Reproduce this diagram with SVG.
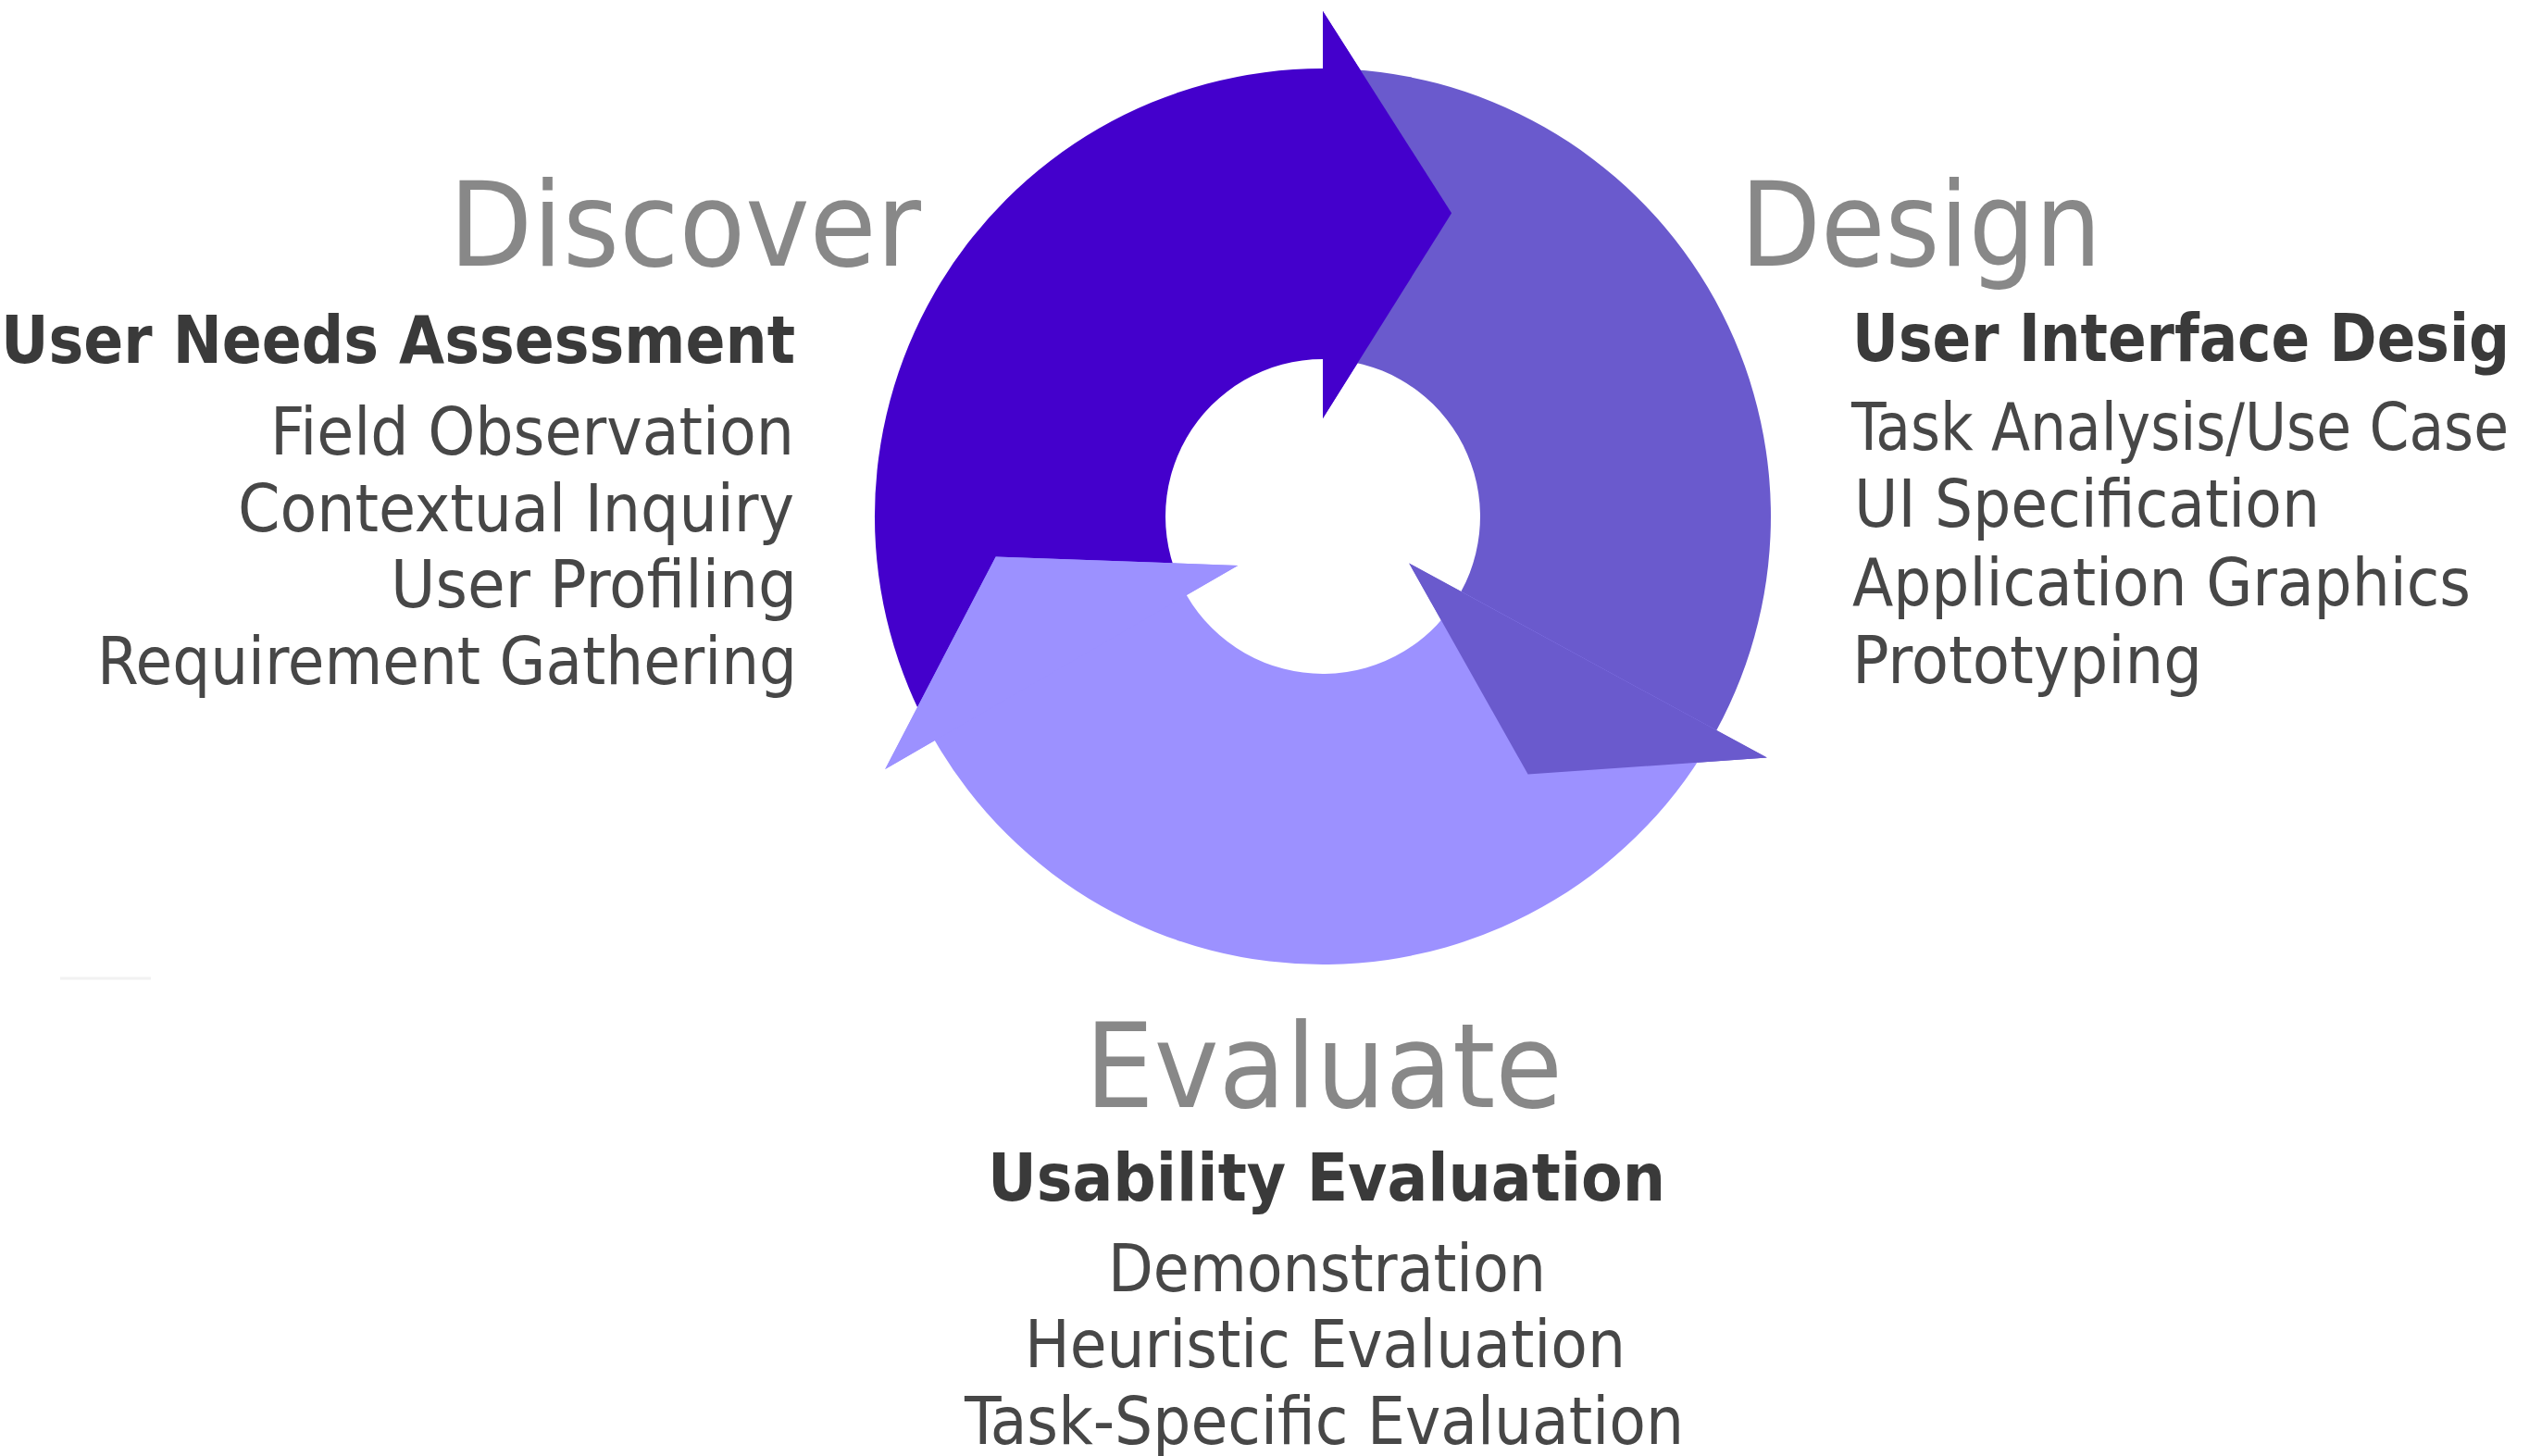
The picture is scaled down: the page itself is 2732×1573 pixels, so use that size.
<svg xmlns="http://www.w3.org/2000/svg" width="2732" height="1573" viewBox="0 0 2732 1573">
  <style>
    text { font-family: "DejaVu Sans Condensed", "DejaVu Sans", sans-serif; font-stretch: condensed; }
    .head { font-size: 127px; fill: #888888; }
    .sub { font-size: 72px; font-weight: bold; fill: #3a3a3a; }
    .item { font-size: 71px; fill: #474747; }
    .dark { fill: #4400CC; }
    .mid { fill: #6A5ACD; }
    .light { fill: #9C91FF; }
  </style>
  <rect x="0" y="0" width="2732" height="1573" fill="#ffffff"/>

  <g id="connectors">
    <path class="dark" d="M 1009.8,800 A 484 484 0 0 1 1429,74 L 1429,12 L 1568.1,230.3 L 1429,452 L 1429,388 A 170 170 0 0 0 1281.8,643 Z"/>
    <path class="mid" d="M 1429,74 A 484 484 0 0 1 1854.3,789 L 1908.8,818.6 L 1650.6,836.6 L 1522.2,608.6 L 1578.4,639.1 A 170 170 0 0 0 1429,388 Z"/>
    <path class="light" d="M 1854.3,789 A 484 484 0 0 1 1009.8,800 L 956.2,831 L 1075.7,601.4 L 1337.2,611 L 1281.8,643 A 170 170 0 0 0 1578.4,639.1 Z"/>
    <path class="dark" d="M 1429,12 L 1568.1,230.3 L 1429,452 Z"/>
    <path class="mid" d="M 1908.8,818.6 L 1650.6,836.6 L 1522.2,608.6 Z"/>
    <path class="light" d="M 956.2,831 L 1075.7,601.4 L 1337.2,611 Z"/>
  </g>

  <g id="node-discover">
    <text class="head" x="485" y="287" textLength="510" lengthAdjust="spacingAndGlyphs">Discover</text>
    <text class="sub" x="1" y="392" textLength="858" lengthAdjust="spacingAndGlyphs">User Needs Assessment</text>
    <text class="item" x="292" y="491" textLength="566" lengthAdjust="spacingAndGlyphs">Field Observation</text>
    <text class="item" x="257" y="574" textLength="601" lengthAdjust="spacingAndGlyphs">Contextual Inquiry</text>
    <text class="item" x="422" y="656" textLength="439" lengthAdjust="spacingAndGlyphs">User Profiling</text>
    <text class="item" x="105" y="739" textLength="756" lengthAdjust="spacingAndGlyphs">Requirement Gathering</text>
  </g>

  <g id="node-design">
    <text class="head" x="1880" y="287" textLength="390" lengthAdjust="spacingAndGlyphs">Design</text>
    <text class="sub" x="2001" y="390" textLength="710" lengthAdjust="spacingAndGlyphs">User Interface Desig</text>
    <text class="item" x="2000" y="486" textLength="710" lengthAdjust="spacingAndGlyphs">Task Analysis/Use Case</text>
    <text class="item" x="2003" y="569" textLength="503" lengthAdjust="spacingAndGlyphs">UI Specification</text>
    <text class="item" x="2001" y="654" textLength="668" lengthAdjust="spacingAndGlyphs">Application Graphics</text>
    <text class="item" x="2001" y="738" textLength="378" lengthAdjust="spacingAndGlyphs">Prototyping</text>
  </g>

  <g id="node-evaluate">
    <text class="head" x="1172" y="1196" textLength="516" lengthAdjust="spacingAndGlyphs">Evaluate</text>
    <text class="sub" x="1067" y="1297" textLength="732" lengthAdjust="spacingAndGlyphs">Usability Evaluation</text>
    <text class="item" x="1197" y="1395" textLength="473" lengthAdjust="spacingAndGlyphs">Demonstration</text>
    <text class="item" x="1107" y="1477" textLength="649" lengthAdjust="spacingAndGlyphs">Heuristic Evaluation</text>
    <text class="item" x="1042" y="1560" textLength="777" lengthAdjust="spacingAndGlyphs">Task-Specific Evaluation</text>
  </g>

  <line x1="65" y1="1057" x2="163" y2="1057" stroke="#f2f2f2" stroke-width="3"/>
</svg>
